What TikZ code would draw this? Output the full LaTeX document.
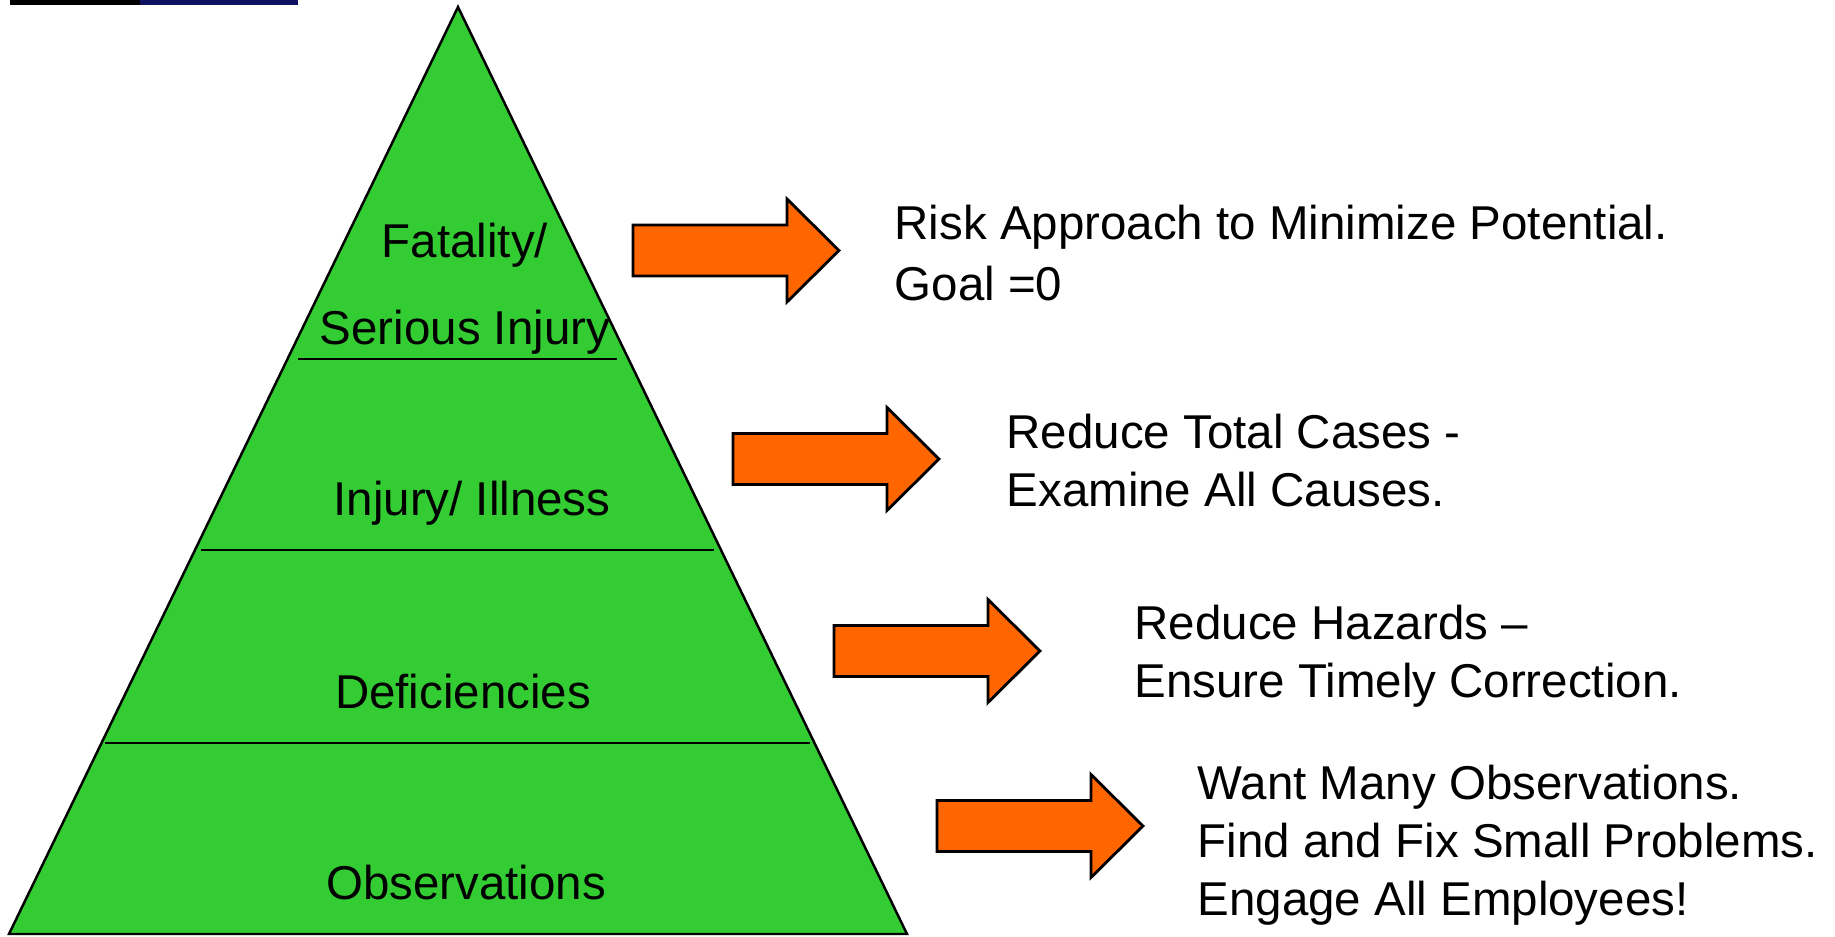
\documentclass[tikz,border=0pt]{standalone}
\usepackage{fontspec}
\setmainfont{Liberation Sans}
\usepackage{tikz}
\definecolor{pyrgreen}{RGB}{51,204,51}
\definecolor{arroworange}{RGB}{255,102,0}
\definecolor{barnavy}{RGB}{16,16,96}
\tikzset{
	levellabel/.style={font=\fontsize{13.5pt}{16.5pt}\selectfont, align=center, inner sep=0pt},
	goaltext/.style={font=\fontsize{13.5pt}{16.5pt}\selectfont, align=left, anchor=west, inner sep=0pt}
}

\begin{document}
\begin{tikzpicture}[x=0.01cm,y=-0.01cm]
			\useasboundingbox (0,0) rectangle (1835,937);
			\draw [black,line width=2] (10,1)-- (140,1);
			\draw [barnavy,line width=2] (140,1)-- (298,1);
			
			\draw [fill=pyrgreen,line width=0.7pt] (458,7)-- (907,934)-- (9,934)-- cycle;
			\draw [line width=0.8pt] (298,359)-- (617,359);
			\draw [line width=0.8pt] (201,550)-- (714,550);
			\draw [line width=0.8pt] (105,743)-- (810,743);
			
			\node[levellabel] (fatal) at (465,289) {Fatality/\\[8.2pt]Serious Injury};
			\node[levellabel] (injury) at (472,503) {Injury/ Illness};
			\node[levellabel] (defic) at (463,692) {Deficiencies};
			\node[levellabel] (observ) at (466,883) {Observations};
			
			\foreach \ax/\ay in {633/250.5, 733/459, 834/651, 937/826}
				\draw [fill=arroworange,line width=0.8pt] (\ax,\ay-25.5)-- (\ax+154,\ay-25.5)-- (\ax+154,\ay-51.5)-- (\ax+206,\ay)-- (\ax+154,\ay+51.5)-- (\ax+154,\ay+25.5)-- (\ax,\ay+25.5)-- cycle;
			
			\node[goaltext] (risk) at (894,253) {Risk Approach to Minimize Potential.\\[1pt]Goal =0};
			\node[goaltext] (cases) at (1006,461) {Reduce Total Cases -\\Examine All Causes.};
			\node[goaltext] (hazards) at (1134,656) {Reduce Hazards --\\Ensure Timely Correction.};
			\node[goaltext] (observe) at (1197,845) {Want Many Observations.\\Find and Fix Small Problems.\\Engage All Employees!};
		\end{tikzpicture}
\end{document}
